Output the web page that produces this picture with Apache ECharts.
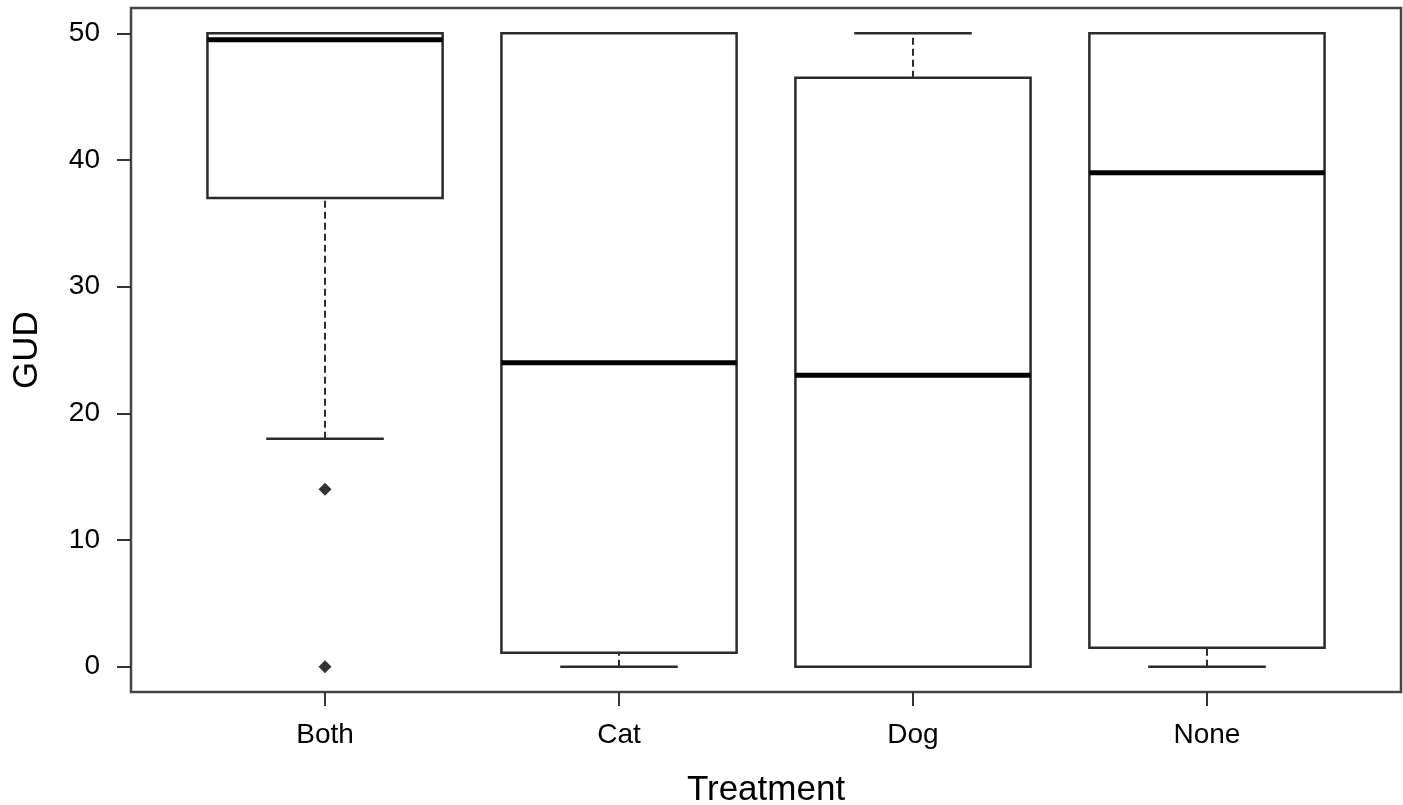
<!DOCTYPE html>
<html>
<head>
<meta charset="utf-8">
<script src="https://cdn.jsdelivr.net/npm/echarts@6/dist/echarts.min.js"></script>
<style>
  html, body { margin: 0; padding: 0; background: #fff; }
  #main { width: 1403px; height: 805px; }
</style>
</head>
<body>
<div id="main"></div>
<script>
// boxplot stats
var categories = ['Both', 'Cat', 'Dog', 'None'];
var lowWhisker = [18, 0, 0, 0];
var q1 = [37, 1.1, 0, 1.5];
var medians = [49.5, 24, 23, 39];
var q3 = [50, 50, 46.5, 50];
var highWhisker = [50, 50, 50, 50];
var outlierGroup = ['Both', 'Both'];
var outlierValues = [14, 0];
var yTicks = [0, 10, 20, 30, 40, 50];

var boxData = categories.map(function (c, i) {
  return [i + 1, lowWhisker[i], q1[i], medians[i], q3[i], highWhisker[i]];
});
var outlierData = outlierValues.map(function (v, i) {
  return [categories.indexOf(outlierGroup[i]) + 1, v];
});

var font = 'Liberation Sans, Arial, sans-serif';
var stroke = '#2b2b2b';

function renderBox(params, api) {
  var x = api.value(0);
  var lo = api.coord([x, api.value(1)]);
  var b1 = api.coord([x, api.value(2)]);
  var md = api.coord([x, api.value(3)]);
  var b3 = api.coord([x, api.value(4)]);
  var hi = api.coord([x, api.value(5)]);
  var left = api.coord([x - 0.4, 0])[0];
  var right = api.coord([x + 0.4, 0])[0];
  var capL = api.coord([x - 0.2, 0])[0];
  var capR = api.coord([x + 0.2, 0])[0];
  var cx = lo[0];
  var dash = { stroke: stroke, lineWidth: 2, lineDash: [7, 4] };
  var solid = { stroke: stroke, lineWidth: 2.5 };
  return {
    type: 'group',
    children: [
      { type: 'line', shape: { x1: cx, y1: lo[1], x2: cx, y2: b1[1] }, style: dash },
      { type: 'line', shape: { x1: cx, y1: b3[1], x2: cx, y2: hi[1] }, style: dash },
      { type: 'line', shape: { x1: capL, y1: lo[1], x2: capR, y2: lo[1] }, style: solid },
      { type: 'line', shape: { x1: capL, y1: hi[1], x2: capR, y2: hi[1] }, style: solid },
      { type: 'rect', shape: { x: left, y: b3[1], width: right - left, height: b1[1] - b3[1] },
        style: { fill: '#fff', stroke: stroke, lineWidth: 2.5 } },
      { type: 'line', shape: { x1: left, y1: md[1], x2: right, y2: md[1] },
        style: { stroke: '#000', lineWidth: 5 } }
    ]
  };
}

var chart = echarts.init(document.getElementById('main'));
var option = {
  animation: false,
  backgroundColor: '#fff',
  grid: {
    left: 131, right: 2, top: 8, bottom: 113,
    outerBoundsMode: 'none',
    containLabel: false,
    show: true, borderColor: '#444', borderWidth: 2.5, backgroundColor: 'transparent'
  },
  xAxis: {
    type: 'value',
    min: 0.34, max: 4.66,
    name: 'Treatment',
    nameLocation: 'middle',
    nameGap: 81,
    nameTextStyle: { fontFamily: font, fontSize: 35, color: '#000' },
    axisLine: { show: false, onZero: false },
    splitLine: { show: false },
    axisTick: { show: true, length: 14, lineStyle: { color: '#333', width: 2 }, customValues: [1, 2, 3, 4] },
    axisLabel: {
      customValues: [1, 2, 3, 4],
      margin: 29,
      fontFamily: font, fontSize: 28, color: '#000',
      formatter: function (v) { return categories[Math.round(v) - 1] || ''; }
    }
  },
  yAxis: {
    type: 'value',
    min: -2, max: 52,
    name: 'GUD',
    nameLocation: 'middle',
    nameGap: 86,
    nameTextStyle: { fontFamily: font, fontSize: 35, color: '#000' },
    axisLine: { show: false, onZero: false },
    splitLine: { show: false },
    axisTick: { show: true, length: 14, lineStyle: { color: '#333', width: 2 }, customValues: yTicks },
    axisLabel: { customValues: yTicks, margin: 31, fontFamily: font, fontSize: 28, color: '#000' }
  },
  series: [
    {
      type: 'custom',
      renderItem: renderBox,
      data: boxData,
      encode: { x: 0, y: [1, 2, 3, 4, 5] },
      z: 2
    },
    {
      type: 'scatter',
      data: outlierData,
      symbol: 'diamond',
      symbolSize: 13,
      itemStyle: { color: '#000' },
      z: 3
    }
  ]
};
chart.setOption(option);
</script>
</body>
</html>
